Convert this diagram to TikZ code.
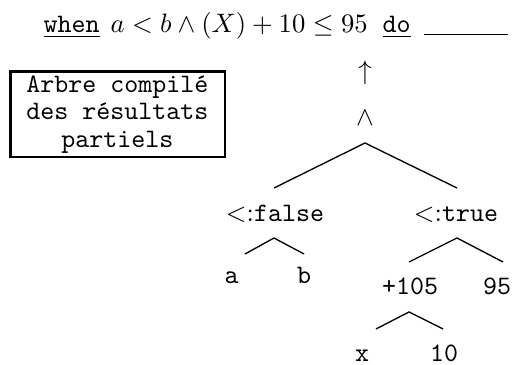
\documentclass[tikz,border=0pt]{standalone}
\usepackage{amssymb}
\begin{document}
\begin{tikzpicture}[x=0.375pt,y=-0.375pt,
  lbl/.style={anchor=base,inner sep=0pt,font=\normalsize},
  edge/.style={line width=0.5pt},
  boxstyle/.style={draw,line width=1.1pt,inner sep=0pt,align=center,
    minimum width=80.6pt,minimum height=31.9pt,
    font=\ttfamily\fontsize{10}{10.2}\selectfont}]
\useasboundingbox (0,0) rectangle (517,365);
% title
\node[anchor=base west,inner sep=0pt] (w) at (43,33) {\underline{\texttt{when}}};
\node[anchor=base west,inner sep=0pt] (m) at (110,33) {$a<b\wedge(X)+10\leq 95$};
\node[anchor=base west,inner sep=0pt] (d) at (382,33) {\underline{\texttt{do}}};
\coordinate (bl1) at (424,34.5);
\coordinate (bl2) at (508,34.5);
\draw[line width=0.4pt] (bl1) -- (bl2);
% box
\node[boxstyle] (box) at (117.5,114.5) {Arbre compilé\\des résultats\\partiels};
% tree
\node[inner sep=0pt] (up) at (365,73) {$\uparrow$};
\node[lbl] (and) at (365,126) {$\wedge$};
\node[lbl] (lt) at (275,222) {$<$:\texttt{false}};
\node[lbl] (rt) at (456,222) {$<$:\texttt{true}};
\node[lbl] (na) at (231.5,284) {\texttt{a}};
\node[lbl] (nb) at (304,284) {\texttt{b}};
\node[lbl] (plus) at (410,295) {\texttt{+105}};
\node[lbl] (n95) at (497,295) {\texttt{95}};
\node[lbl] (nx) at (362,362) {\texttt{x}};
\node[lbl] (n10) at (444,362) {\texttt{10}};
\coordinate (A0) at (365,143); \coordinate (A1) at (274,188); \coordinate (A2) at (457,188);
\coordinate (B0) at (274,238); \coordinate (B1) at (245,254); \coordinate (B2) at (304,254);
\coordinate (C0) at (457,238); \coordinate (C1) at (409,262); \coordinate (C2) at (503,262);
\coordinate (D0) at (409,312); \coordinate (D1) at (376,329); \coordinate (D2) at (443,329);
\draw[edge] (A1) -- (A0) -- (A2);
\draw[edge] (B1) -- (B0) -- (B2);
\draw[edge] (C1) -- (C0) -- (C2);
\draw[edge] (D1) -- (D0) -- (D2);
\end{tikzpicture}
\end{document}
